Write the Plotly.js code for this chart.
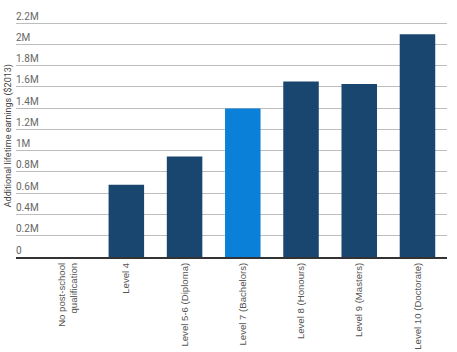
<!DOCTYPE html>
<html>
<head>
<meta charset="utf-8">
<script src="https://cdn.plot.ly/plotly-3.0.1.min.js"></script>
<style>html,body{margin:0;padding:0;background:#fff;}#chart{width:457px;height:352px;}</style>
</head>
<body>
<div id="chart"></div>
<script>
const categories = ["No post-school<br>qualification", "Level 4", "Level 5-6 (Diploma)", "Level 7 (Bachelors)", "Level 8 (Honours)", "Level 9 (Masters)", "Level 10 (Doctorate)"];
const earnings = [0, 680000, 945000, 1396000, 1650000, 1627000, 2094000];
const barColors = ["#18466e", "#18466e", "#18466e", "#0a80d9", "#18466e", "#18466e", "#18466e"];
const tickValues = [0, 200000, 400000, 600000, 800000, 1000000, 1200000, 1400000, 1600000, 1800000, 2000000, 2200000];
const tickLabels = ["0", "0.2M", "0.4M", "0.6M", "0.8M", "1M", "1.2M", "1.4M", "1.6M", "1.8M", "2M", "2.2M"];
const yTitle = "Additional lifetime earnings ($2013)";

const data = [{
  type: "bar",
  x: categories,
  y: earnings,
  marker: {color: barColors},
  hoverinfo: "none"
}];

const layout = {
  width: 457,
  height: 352,
  margin: {l: 16, r: 10, t: 4, b: 95, pad: 0},
  paper_bgcolor: "#fff",
  plot_bgcolor: "#fff",
  bargap: 0.39,
  showlegend: false,
  xaxis: {
    type: "category",
    range: [-0.895, 6.507],
    tickangle: -90,
    ticks: "",
    showgrid: false,
    showline: true,
    linecolor: "#333",
    linewidth: 2,
    zeroline: false,
    tickfont: {family: "Liberation Sans, Arial, sans-serif", size: 9.6, color: "#555"},
    automargin: false
  },
  yaxis: {
    range: [0, 2378632],
    tickvals: tickValues,
    ticktext: tickLabels,
    ticklabelposition: "inside",
    ticklabelshift: -7,
    ticklabelstandoff: -3,
    ticks: "",
    showline: false,
    zeroline: false,
    gridcolor: "#bdbdbd",
    gridwidth: 1,
    tickfont: {family: "Roboto, sans-serif", size: 10, color: "#666"},
    automargin: false
  },
  annotations: [{
    text: yTitle,
    xref: "paper", yref: "paper",
    x: -0.018, y: 0.478,
    xanchor: "center", yanchor: "middle",
    textangle: -90,
    showarrow: false,
    font: {family: "Roboto, sans-serif", size: 9, color: "#444"}
  }]
};

Plotly.newPlot("chart", data, layout, {staticPlot: true, displayModeBar: false});
</script>
</body>
</html>
